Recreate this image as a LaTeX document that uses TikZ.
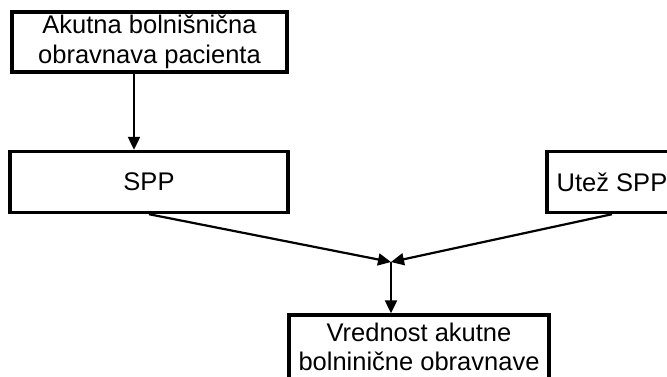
\documentclass[tikz,border=0pt]{standalone}
\usepackage{fontspec}
\setmainfont{Liberation Sans}
\usepackage{tikz}
\usetikzlibrary{shapes,arrows.meta}

\tikzset{
  box/.style={draw, line width=1.7pt, rectangle, inner sep=0pt, align=center,
    font=\fontsize{12.75}{14.75}\selectfont},
  arr/.style={line width=1.1pt, -{Triangle[length=6.5pt,width=6pt]}},
}

\begin{document}
\begin{tikzpicture}[x=0.5pt,y=-0.5pt]
      % Canvas
      \clip (0,0) rectangle (667,376);
      \fill[white] (0,0) rectangle (667,376);

      % boxes
      \node[box, minimum width=137.5pt, minimum height=30pt] (akutna) at (149.5,42)
        {Akutna bolnišnična\\obravnava pacienta};
      \node[box, minimum width=139pt, minimum height=30.5pt] (spp) at (149,182) {SPP};
      \node[box, minimum width=65pt, minimum height=30.5pt] (utez) at (612,182) {Utež SPP};
      \node[box, minimum width=130pt, minimum height=32pt] (vrednost) at (419,347)
        {Vrednost akutne\\bolninične obravnave};

      % points
      \coordinate (p1) at (134,0);
      \coordinate (j) at (391,262);

      % arrows
      \draw[arr] (akutna.south -| p1) -- (spp.north -| p1);
      \draw[arr] (spp.south) -- (j);
      \draw[arr] (utez.south) -- (j);
      \draw[arr] (j) -- (vrednost.north -| j);
\end{tikzpicture}
\end{document}
